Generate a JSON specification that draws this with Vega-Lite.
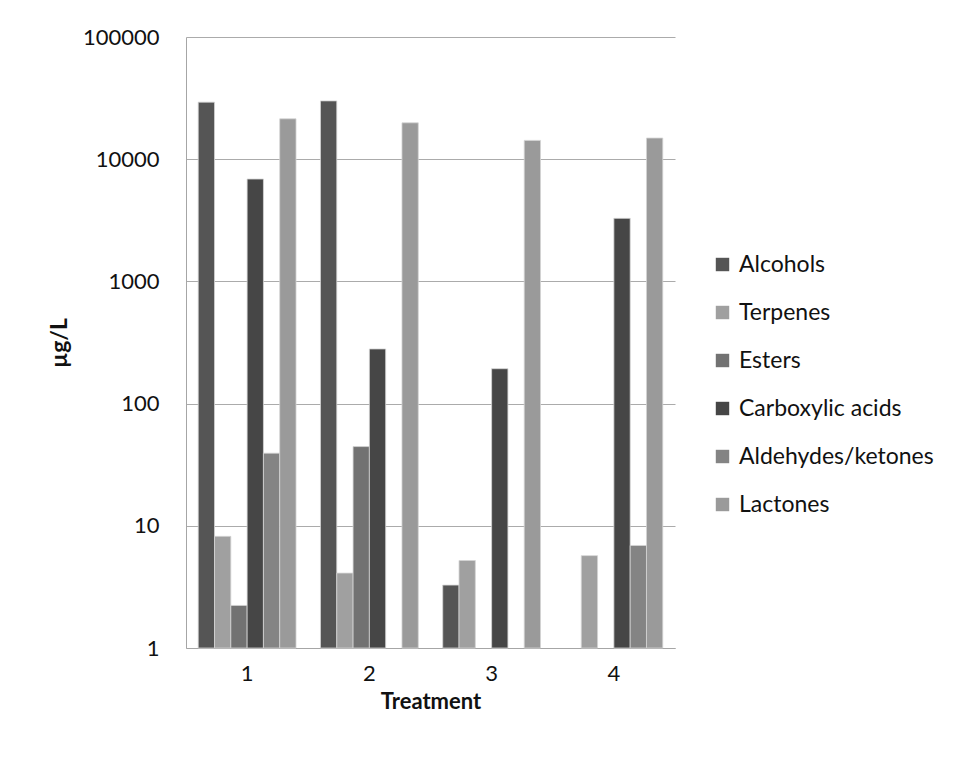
{
  "$schema": "https://vega.github.io/schema/vega-lite/v6.json",
  "width": 489,
  "height": 611,
  "autosize": {"type": "none"},
  "padding": {"left": 186, "top": 37, "right": 282, "bottom": 113},
  "background": "white",
  "data": {
    "values": [
      {"treatment": "1", "group": "Alcohols", "value": 29300},
      {"treatment": "1", "group": "Terpenes", "value": 8.2},
      {"treatment": "1", "group": "Esters", "value": 2.23},
      {"treatment": "1", "group": "Carboxylic acids", "value": 6880},
      {"treatment": "1", "group": "Aldehydes/ketones", "value": 39.3},
      {"treatment": "1", "group": "Lactones", "value": 21400},
      {"treatment": "2", "group": "Alcohols", "value": 30000},
      {"treatment": "2", "group": "Terpenes", "value": 4.1},
      {"treatment": "2", "group": "Esters", "value": 44.5},
      {"treatment": "2", "group": "Carboxylic acids", "value": 280},
      {"treatment": "2", "group": "Lactones", "value": 19850},
      {"treatment": "3", "group": "Alcohols", "value": 3.27},
      {"treatment": "3", "group": "Terpenes", "value": 5.2},
      {"treatment": "3", "group": "Carboxylic acids", "value": 193},
      {"treatment": "3", "group": "Lactones", "value": 14250},
      {"treatment": "4", "group": "Terpenes", "value": 5.7},
      {"treatment": "4", "group": "Carboxylic acids", "value": 3280},
      {"treatment": "4", "group": "Aldehydes/ketones", "value": 6.9},
      {"treatment": "4", "group": "Lactones", "value": 14900}
    ]
  },
  "mark": {"type": "bar", "stroke": "#d4d4d4", "strokeWidth": 0.8},
  "encoding": {
    "x": {
      "field": "treatment",
      "type": "nominal",
      "scale": {"domain": ["1", "2", "3", "4"], "paddingInner": 0.2, "paddingOuter": 0.1},
      "axis": {
        "title": "Treatment",
        "labelAngle": 0,
        "ticks": false,
        "domainColor": "#a6a6a6",
        "labelFont": "Lato",
        "labelFontSize": 22,
        "labelColor": "#111111",
        "labelPadding": 15,
        "titleFont": "Lato",
        "titleFontWeight": "bold",
        "titleFontSize": 22,
        "titleColor": "#111111",
        "titlePadding": 7
      }
    },
    "xOffset": {
      "field": "group",
      "type": "nominal",
      "scale": {
        "domain": ["Alcohols", "Terpenes", "Esters", "Carboxylic acids", "Aldehydes/ketones", "Lactones"],
        "paddingInner": 0,
        "paddingOuter": 0
      }
    },
    "y": {
      "field": "value",
      "type": "quantitative",
      "scale": {"type": "log", "domain": [1, 100000], "nice": false},
      "axis": {
        "title": "µg/L",
        "values": [1, 10, 100, 1000, 10000, 100000],
        "format": "d",
        "ticks": false,
        "grid": true,
        "gridColor": "#ababab",
        "gridWidth": 1,
        "domainColor": "#a6a6a6",
        "labelFont": "Lato",
        "labelFontSize": 22,
        "labelColor": "#111111",
        "labelPadding": 27,
        "titleFont": "Lato",
        "titleFontWeight": "bold",
        "titleFontSize": 23,
        "titleColor": "#111111",
        "titlePadding": 11
      }
    },
    "y2": {"datum": 1},
    "color": {
      "field": "group",
      "type": "nominal",
      "scale": {
        "domain": ["Alcohols", "Terpenes", "Esters", "Carboxylic acids", "Aldehydes/ketones", "Lactones"],
        "range": ["#555555", "#a0a0a0", "#727272", "#464646", "#848484", "#9a9a9a"]
      },
      "legend": {
        "title": null,
        "orient": "none",
        "legendX": 525,
        "legendY": 216,
        "symbolType": "square",
        "symbolSize": 180,
        "symbolStrokeWidth": 0,
        "labelFont": "Lato",
        "labelFontSize": 23,
        "labelColor": "#111111",
        "labelOffset": 5,
        "labelLimit": 0,
        "rowPadding": 24
      }
    }
  },
  "config": {"view": {"stroke": null}}
}
